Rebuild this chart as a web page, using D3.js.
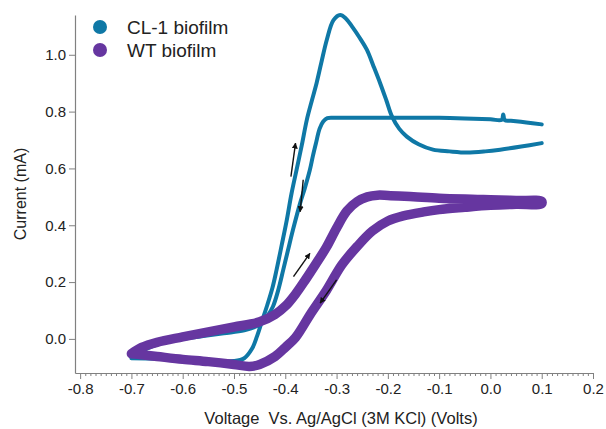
<!DOCTYPE html>
<html>
<head>
<meta charset="utf-8">
<script src="https://cdn.jsdelivr.net/npm/d3@7"></script>
<style>
  html, body { margin: 0; padding: 0; background: #fff; }
  svg { display: block; font-family: "Liberation Sans", Arial, sans-serif; }
</style>
</head>
<body>
<svg id="chart" width="606" height="429"></svg>
<script>
// ---- Data ----
const seriesNames = ["CL-1 biofilm", "WT biofilm"];
const seriesColors = ["#0f78a6", "#6636a0"];

// CL-1 biofilm, forward (positive-going) scan (Volts, mA)
const cl1FwdVoltage = [
  -0.70, -0.65, -0.60, -0.55, -0.50, -0.48, -0.465, -0.455, -0.445, -0.436, -0.425, -0.417,
  -0.407, -0.397, -0.388, -0.378, -0.368, -0.358, -0.348, -0.339, -0.330, -0.319, -0.306,
  -0.293, -0.282, -0.27, -0.255, -0.241, -0.228, -0.215, -0.203, -0.192, -0.178, -0.163,
  -0.14, -0.112, -0.08, -0.046, -0.01, 0.019, 0.06, 0.10
];
const cl1FwdCurrent = [
  -0.068, -0.070, -0.072, -0.078, -0.078, -0.068, -0.035, 0.01, 0.065, 0.114, 0.18, 0.243,
  0.33, 0.419, 0.51, 0.595, 0.68, 0.771, 0.84, 0.90, 0.97, 1.053, 1.122,
  1.14, 1.128, 1.10, 1.06, 1.018, 0.96, 0.90, 0.84, 0.783, 0.74, 0.712,
  0.685, 0.666, 0.66, 0.656, 0.66, 0.666, 0.677, 0.689
];
// CL-1 biofilm, reverse (negative-going) scan
const cl1RevVoltage = [
  0.10, 0.07, 0.04, 0.028, 0.025, 0.022, 0.0, -0.05, -0.10, -0.15, -0.20, -0.25, -0.30,
  -0.318, -0.326, -0.333, -0.340, -0.346, -0.352, -0.362, -0.371, -0.385, -0.395, -0.404,
  -0.414, -0.424, -0.435, -0.45, -0.48, -0.52, -0.56, -0.60, -0.65, -0.70
];
const cl1RevCurrent = [
  0.755, 0.762, 0.768, 0.770, 0.79, 0.771, 0.773, 0.776, 0.778, 0.778, 0.778, 0.778, 0.778,
  0.777, 0.765, 0.74, 0.69, 0.645, 0.595, 0.53, 0.478, 0.384, 0.31, 0.243,
  0.17, 0.114, 0.08, 0.05, 0.03, 0.02, 0.01, 0.0, -0.02, -0.06
];

// WT biofilm: forward (upper) then reverse (lower), closed loop
const wtVoltage = [
  -0.70, -0.68, -0.65, -0.60, -0.55, -0.50, -0.45, -0.42, -0.40, -0.38, -0.36, -0.34,
  -0.32, -0.30, -0.28, -0.26, -0.24, -0.22, -0.20, -0.15, -0.10, -0.05, 0.0, 0.05, 0.10,
  0.10, 0.05, 0.0, -0.05, -0.10, -0.13, -0.17, -0.20, -0.23, -0.26, -0.29, -0.32, -0.35,
  -0.38, -0.40, -0.42, -0.45, -0.47, -0.50, -0.55, -0.60, -0.65, -0.68, -0.70
];
const wtCurrent = [
  -0.052, -0.03, -0.012, 0.007, 0.025, 0.042, 0.060, 0.086, 0.115, 0.158, 0.21, 0.265,
  0.322, 0.39, 0.45, 0.483, 0.50, 0.506, 0.505, 0.50, 0.495, 0.492, 0.49, 0.487, 0.484,
  0.476, 0.474, 0.470, 0.463, 0.455, 0.447, 0.433, 0.415, 0.38, 0.325, 0.26, 0.17, 0.09,
  0.005, -0.03, -0.062, -0.09, -0.097, -0.09, -0.08, -0.072, -0.062, -0.056, -0.052
];

// Scan-direction arrows: [x1, y1, x2, y2] in data units
const arrows = [
  [-0.389, 0.571, -0.380, 0.689],
  [-0.365, 0.560, -0.371, 0.448],
  [-0.384, 0.219, -0.352, 0.301],
  [-0.300, 0.208, -0.332, 0.126]
];

const xTicks = [-0.8, -0.7, -0.6, -0.5, -0.4, -0.3, -0.2, -0.1, 0.0, 0.1, 0.2];
const yTicks = [0.0, 0.2, 0.4, 0.6, 0.8, 1.0];
const xTitle = "Voltage  Vs. Ag/AgCl (3M KCl) (Volts)";
const yTitle = "Current (mA)";

// ---- Drawing ----
const svg = d3.select("#chart");
const x = d3.scaleLinear().domain([-0.81, 0.2]).range([75, 593]);
const y = d3.scaleLinear().domain([-0.12, 1.14]).range([373, 15]);
const axisColor = "#808080";
const textColor = "#222";
const fmt = d => d3.format(".1f")(d).replace("\u2212", "-");
const font = "'Liberation Sans', Arial, sans-serif";

// x axis minor ticks
const minor = d3.range(-80, 21).map(d => d / 100).filter(v => !xTicks.some(t => Math.abs(t - v) < 1e-9));
const gxMinor = svg.append("g").attr("transform", "translate(0,373)")
  .call(d3.axisBottom(x).tickValues(minor).tickSize(3).tickSizeOuter(0).tickFormat(""));
gxMinor.select(".domain").remove();
gxMinor.selectAll("line").attr("stroke", axisColor);

const gx = svg.append("g").attr("transform", "translate(0,373)")
  .call(d3.axisBottom(x).tickValues(xTicks).tickSize(6).tickSizeOuter(0).tickPadding(4).tickFormat(fmt));
gx.select(".domain").attr("stroke", axisColor).attr("stroke-width", 1.2);
gx.selectAll("line").attr("stroke", axisColor);
gx.selectAll("text").attr("fill", textColor).attr("font-size", "15px").attr("font-family", font);

const gy = svg.append("g").attr("transform", "translate(75,0)")
  .call(d3.axisLeft(y).tickValues(yTicks).tickSize(6).tickSizeOuter(0).tickPadding(3).tickFormat(fmt));
gy.select(".domain").attr("stroke", axisColor).attr("stroke-width", 1.2);
gy.selectAll("line").attr("stroke", axisColor);
gy.selectAll("text").attr("fill", textColor).attr("font-size", "15px").attr("font-family", font);

// titles
svg.append("text").attr("x", 341).attr("y", 424).attr("text-anchor", "middle")
  .attr("font-size", "16.5px").attr("fill", textColor).attr("font-family", font)
  .style("white-space", "pre").text(xTitle);
svg.append("text").attr("transform", "translate(26,194) rotate(-90)").attr("text-anchor", "middle")
  .attr("font-size", "16px").attr("fill", textColor).attr("font-family", font).text(yTitle);

// curves
const line = d3.line().x(d => x(d[0])).y(d => y(d[1])).curve(d3.curveCatmullRom.alpha(0.5));
const zip = (a, b) => a.map((v, i) => [v, b[i]]);
const cl1Segments = [zip(cl1FwdVoltage, cl1FwdCurrent), zip(cl1RevVoltage, cl1RevCurrent)];
const wt = zip(wtVoltage, wtCurrent);

svg.append("g").selectAll("path").data(cl1Segments).join("path").attr("d", line).attr("fill", "none")
  .attr("stroke", seriesColors[0]).attr("stroke-width", 4)
  .attr("stroke-linejoin", "round").attr("stroke-linecap", "round");
svg.append("path").datum(wt).attr("d", line).attr("fill", "none")
  .attr("stroke", seriesColors[1]).attr("stroke-width", 9.5)
  .attr("stroke-linejoin", "round").attr("stroke-linecap", "round");

// arrows
svg.append("defs").append("marker").attr("id", "ah").attr("viewBox", "0 0 10 10")
  .attr("refX", 9).attr("refY", 5).attr("markerWidth", 6).attr("markerHeight", 6)
  .attr("markerUnits", "userSpaceOnUse").attr("orient", "auto")
  .append("path").attr("d", "M0,0 L10,5 L0,10 Z").attr("fill", "#111");
svg.append("g").selectAll("line").data(arrows).join("line")
  .attr("x1", d => x(d[0])).attr("y1", d => y(d[1]))
  .attr("x2", d => x(d[2])).attr("y2", d => y(d[3]))
  .attr("stroke", "#111").attr("stroke-width", 1.4).attr("marker-end", "url(#ah)");

// legend
const lg = svg.append("g");
seriesNames.forEach((name, i) => {
  lg.append("circle").attr("cx", 100).attr("cy", 27 + i * 23).attr("r", 7).attr("fill", seriesColors[i]);
  lg.append("text").attr("x", 127).attr("y", 34 + i * 23).attr("font-size", "19px")
    .attr("fill", textColor).attr("font-family", font).text(name);
});
</script>
</body>
</html>
